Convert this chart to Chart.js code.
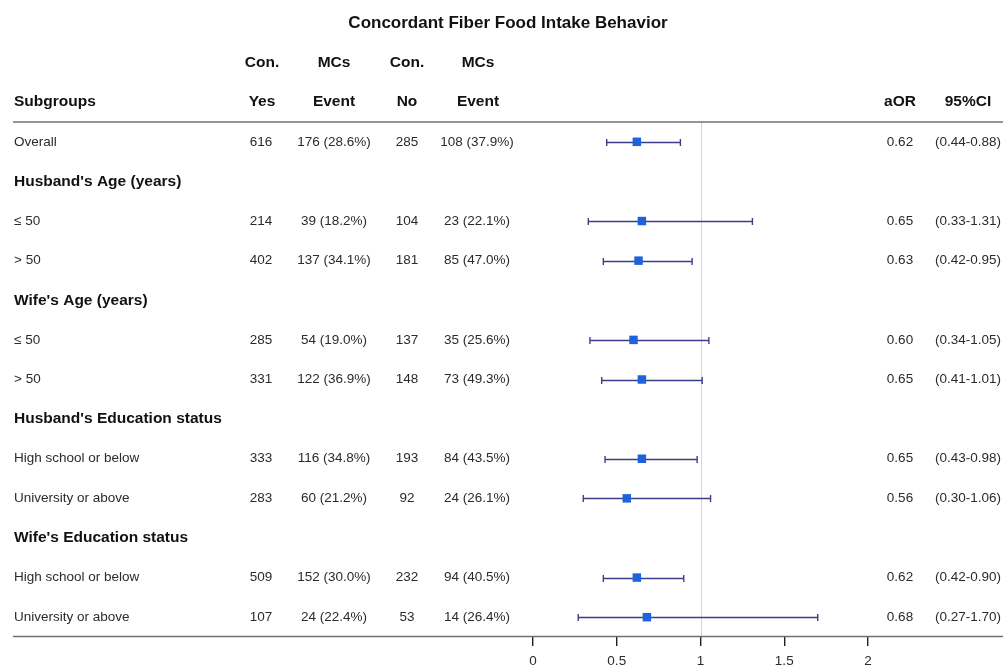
<!DOCTYPE html>
<html>
<head>
<meta charset="utf-8">
<script src="https://cdn.jsdelivr.net/npm/chart.js@4"></script>
<style>
  body { margin: 0; background: #fff; }
  #wrap { width: 1003px; height: 668px; position: relative; }
</style>
</head>
<body>
<div id="wrap"><canvas id="myChart"></canvas></div>
<script>
// rows of the forest plot, top to bottom
const rowLabels = [
  "Overall",
  "Husband's Age (years)", "≤ 50", "> 50",
  "Wife's Age (years)", "≤ 50", "> 50",
  "Husband's Education status", "High school or below", "University or above",
  "Wife's Education status", "High school or below", "University or above"
];
const headerRows = [1, 4, 7, 10];

const conYes   = [616, null, 214, 402, null, 285, 331, null, 333, 283, null, 509, 107];
const yesEvent = [176, null, 39, 137, null, 54, 122, null, 116, 60, null, 152, 24];
const yesPct   = ["28.6", null, "18.2", "34.1", null, "19.0", "36.9", null, "34.8", "21.2", null, "30.0", "22.4"];
const conNo    = [285, null, 104, 181, null, 137, 148, null, 193, 92, null, 232, 53];
const noEvent  = [108, null, 23, 85, null, 35, 73, null, 84, 24, null, 94, 14];
const noPct    = ["37.9", null, "22.1", "47.0", null, "25.6", "49.3", null, "43.5", "26.1", null, "40.5", "26.4"];
const aOR      = [0.62, null, 0.65, 0.63, null, 0.60, 0.65, null, 0.65, 0.56, null, 0.62, 0.68];
const ciLow    = [0.44, null, 0.33, 0.42, null, 0.34, 0.41, null, 0.43, 0.30, null, 0.42, 0.27];
const ciHigh   = [0.88, null, 1.31, 0.95, null, 1.05, 1.01, null, 0.98, 1.06, null, 0.90, 1.70];

const xTicks = [0, 0.5, 1, 1.5, 2];

const FONT = "'Liberation Sans', Arial, sans-serif";

/*
 * Table text, rules, reference line and CI whiskers
 */
const forestPlugin = {
  id: "forest",
  beforeDatasetsDraw(chart) {
    const ctx = chart.ctx;
    const x = chart.scales.x;
    const y = chart.scales.y;
    const area = chart.chartArea;

    // reference line at 1
    ctx.save();
    ctx.strokeStyle = "#d4d4d4";
    ctx.lineWidth = 1;
    ctx.beginPath();
    ctx.moveTo(Math.round(x.getPixelForValue(1)) + 0.5, area.top);
    ctx.lineTo(Math.round(x.getPixelForValue(1)) + 0.5, area.bottom);
    ctx.stroke();

    // table rules
    ctx.strokeStyle = "#707070";
    ctx.lineWidth = 1.3;
    [area.top, area.bottom - 0.5].forEach(function (yy) {
      ctx.beginPath();
      ctx.moveTo(13, yy);
      ctx.lineTo(1003, yy);
      ctx.stroke();
    });

    // whiskers
    ctx.strokeStyle = "#3e3e88";
    ctx.lineWidth = 1.4;
    aOR.forEach(function (v, i) {
      if (v == null) return;
      const yy = Math.round(y.getPixelForValue(i)) + 0.5;
      const x1 = x.getPixelForValue(ciLow[i]);
      const x2 = x.getPixelForValue(ciHigh[i]);
      ctx.beginPath();
      ctx.moveTo(x1, yy);
      ctx.lineTo(x2, yy);
      ctx.moveTo(x1, yy - 3.5);
      ctx.lineTo(x1, yy + 3.5);
      ctx.moveTo(x2, yy - 3.5);
      ctx.lineTo(x2, yy + 3.5);
      ctx.stroke();
    });
    ctx.restore();
  },
  afterDraw(chart) {
    const ctx = chart.ctx;
    const y = chart.scales.y;
    ctx.save();
    ctx.textBaseline = "middle";

    // title
    ctx.fillStyle = "#111";
    ctx.font = "bold 17px " + FONT;
    ctx.textAlign = "center";
    ctx.fillText("Concordant Fiber Food Intake Behavior", 508, y.getPixelForValue(-3));

    // column headers
    ctx.font = "bold 15.5px " + FONT;
    const h1 = y.getPixelForValue(-2);
    const h2 = y.getPixelForValue(-1);
    ctx.fillText("Con.", 262, h1);
    ctx.fillText("MCs", 334, h1);
    ctx.fillText("Con.", 407, h1);
    ctx.fillText("MCs", 478, h1);
    ctx.fillText("Yes", 262, h2);
    ctx.fillText("Event", 334, h2);
    ctx.fillText("No", 407, h2);
    ctx.fillText("Event", 478, h2);
    ctx.fillText("aOR", 900, h2);
    ctx.fillText("95%CI", 968, h2);
    ctx.textAlign = "left";
    ctx.fillText("Subgroups", 14, h2);

    // rows
    rowLabels.forEach(function (label, i) {
      const yy = y.getPixelForValue(i);
      if (headerRows.includes(i)) {
        ctx.fillStyle = "#111";
        ctx.font = "bold 15.5px " + FONT;
        ctx.textAlign = "left";
        ctx.fillText(label, 14, yy);
        return;
      }
      ctx.fillStyle = "#2b2b2b";
      ctx.font = "13.5px " + FONT;
      ctx.textAlign = "left";
      ctx.fillText(label, 14, yy);
      ctx.textAlign = "center";
      ctx.fillText(String(conYes[i]), 261, yy);
      ctx.fillText(yesEvent[i] + " (" + yesPct[i] + "%)", 334, yy);
      ctx.fillText(String(conNo[i]), 407, yy);
      ctx.fillText(noEvent[i] + " (" + noPct[i] + "%)", 477, yy);
      ctx.fillText(aOR[i].toFixed(2), 900, yy);
      ctx.fillText("(" + ciLow[i].toFixed(2) + "-" + ciHigh[i].toFixed(2) + ")", 968, yy);
    });
    ctx.restore();
  },
};

const points = aOR
  .map(function (v, i) { return v == null ? null : { x: v, y: i }; })
  .filter(function (p) { return p != null; });

const config = {
  type: "scatter",
  data: {
    datasets: [
      {
        data: points,
        pointStyle: "rect",
        pointRadius: 6,
        pointHoverRadius: 6,
        backgroundColor: "#1f63dc",
        borderColor: "#1f63dc",
        borderWidth: 0,
      },
    ],
  },
  options: {
    responsive: true,
    maintainAspectRatio: false,
    animation: false,
    layout: {
      padding: { left: 533, right: 135, top: 122, bottom: 0 },
    },
    scales: {
      x: {
        type: "linear",
        min: 0,
        max: 2,
        afterBuildTicks: function (axis) {
          axis.ticks = xTicks.map(function (v) { return { value: v }; });
        },
        afterFit: function (axis) {
          axis.height = 31;
        },
        border: { display: false },
        grid: {
          drawOnChartArea: false,
          drawTicks: true,
          tickLength: 9,
          color: "#222",
          lineWidth: 1.4,
        },
        ticks: {
          padding: 7,
          color: "#2b2b2b",
          maxRotation: 0,
          font: { family: FONT, size: 13.5 },
          callback: function (value) { return String(value); },
        },
      },
      y: {
        type: "linear",
        display: false,
        reverse: true,
        min: -0.5,
        max: 12.5,
      },
    },
    plugins: {
      legend: { display: false },
      tooltip: { enabled: false },
    },
  },
  plugins: [forestPlugin],
};

new Chart(document.getElementById("myChart"), config);
</script>
</body>
</html>
